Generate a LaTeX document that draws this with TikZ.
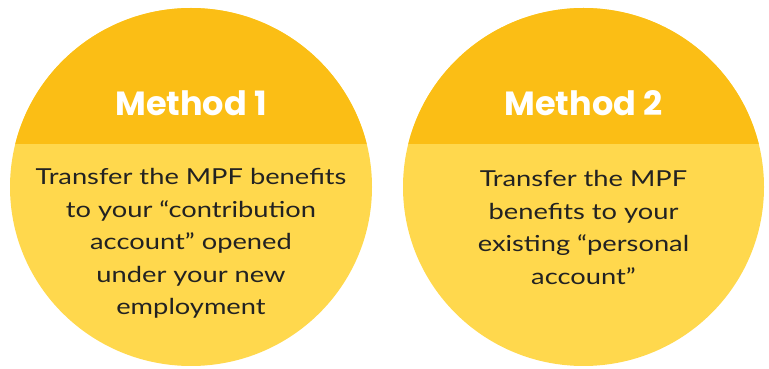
\documentclass[tikz,border=0pt]{standalone}
\usepackage{fontspec}
\setmainfont{Lato}[FakeStretch=1.24]
\newfontfamily\titlefont{Poppins}
\definecolor{topyellow}{RGB}{251,190,21}
\definecolor{lowyellow}{RGB}{255,216,77}
\definecolor{bodytext}{RGB}{34,34,34}
\tikzset{
  titletext/.style={text=white, font=\titlefont\bfseries\fontsize{33.5}{38}\selectfont, inner sep=0pt},
  bodytxt/.style={text=bodytext, align=center, font=\fontsize{22}{32.5}\selectfont, inner sep=0pt},
}
\begin{document}
\begin{tikzpicture}[x=1pt,y=1pt]
\useasboundingbox (0,0) rectangle (769,369);
% left circle
\fill[lowyellow] (191,182) ellipse [x radius=181, y radius=179];
\begin{scope}
  \clip (191,182) ellipse [x radius=181, y radius=179];
  \fill[topyellow] (0,224.5) rectangle (385,369);
\end{scope}
% right circle
\fill[lowyellow] (583.5,182) ellipse [x radius=180.5, y radius=179];
\begin{scope}
  \clip (583.5,182) ellipse [x radius=180.5, y radius=179];
  \fill[topyellow] (385,224.5) rectangle (769,369);
\end{scope}
\node[titletext] (t1) at (191,266) {Method 1};
\node[titletext] (t2) at (583.5,266) {Method 2};
\node[bodytxt] (b1) at (191,125.5) {Transfer the MPF benefits\\to your “contribution\\account” opened\\under your new\\employment};
\node[bodytxt] (b2) at (583.5,141.5) {Transfer the MPF\\benefits to your\\existing “personal\\account”};
\end{tikzpicture}
\end{document}
